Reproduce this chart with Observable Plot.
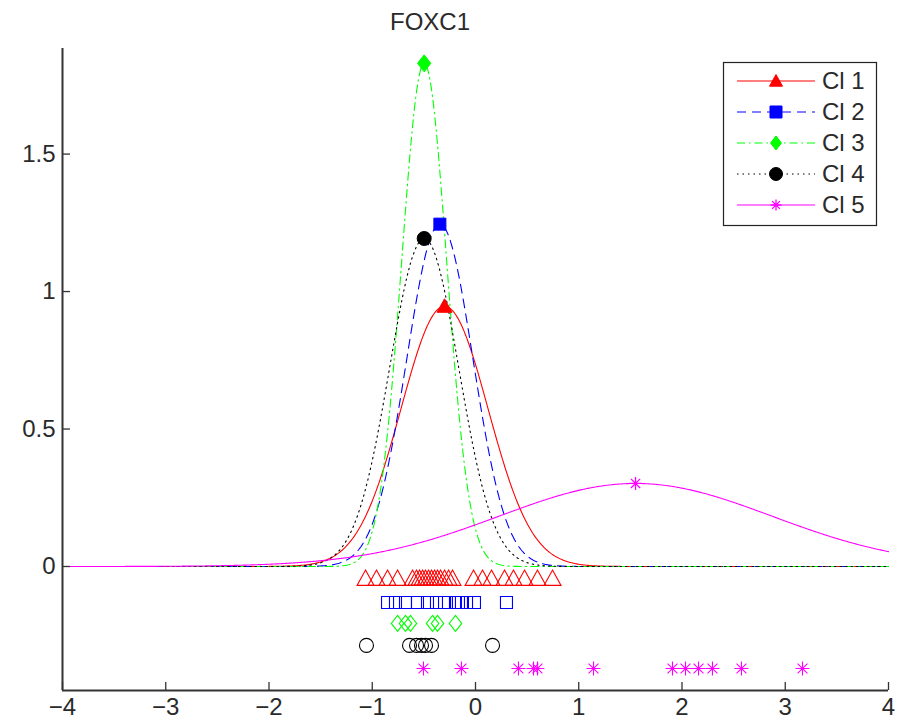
<!DOCTYPE html>
<html>
<head>
<meta charset="utf-8">
<script src="https://cdn.jsdelivr.net/npm/d3@7"></script>
<script src="https://cdn.jsdelivr.net/npm/@observablehq/plot@0.6"></script>
<style>
  html, body { margin: 0; padding: 0; background: #fff; }
  #chart { width: 903px; height: 724px; }
</style>
</head>
<body>
<div id="chart"></div>
<script>
// ---------- data ----------
const title = "FOXC1";
const classNames = ["Cl 1", "Cl 2", "Cl 3", "Cl 4", "Cl 5"];
const colors = ["#ff0000", "#0000ff", "#00ff00", "#000000", "#ff00ff"];
const dashes = [null, "9,6", "8,4,1.5,4", "1.5,4", null];
// fitted normal curve parameters (mean and standard deviation) per class
const means = [-0.30, -0.345, -0.497, -0.497, 1.55];
const sds = [0.4215, 0.3204, 0.218, 0.3344, 1.321];
// sample values shown as markers below zero
const rugLevels = [-0.044, -0.131, -0.207, -0.287, -0.371];
const rug1 = [-1.065, -0.959, -0.852, -0.755, -0.610, -0.572, -0.542, -0.513, -0.484, -0.455, -0.426, -0.397, -0.368, -0.339, -0.300, -0.261, -0.223, -0.019, 0.068, 0.155, 0.281, 0.368, 0.475, 0.600, 0.746];
const rug2 = [-0.852, -0.775, -0.678, -0.562, -0.465, -0.378, -0.300, -0.194, -0.165, -0.136, -0.087, -0.010, 0.300];
const rug3 = [-0.755, -0.678, -0.630, -0.416, -0.368, -0.194];
const rug4 = [-1.056, -0.639, -0.571, -0.523, -0.484, -0.426, 0.165];
const rug5 = [-0.504, -0.136, 0.416, 0.562, 0.600, 1.143, 1.908, 2.034, 2.160, 2.295, 2.576, 3.167];
const rugs = [rug1, rug2, rug3, rug4, rug5];
const xTicks = [-4, -3, -2, -1, 0, 1, 2, 3, 4];
const yTicks = [0, 0.5, 1, 1.5];
const xDomain = [-4, 4];
const yDomain = [-0.451, 1.884];

// ---------- marker shapes ----------
const rad = (size) => Math.sqrt(size / Math.PI);
const symTri = { draw(ctx, size) { const r = rad(size); ctx.moveTo(0, -r); ctx.lineTo(r, 0.8 * r); ctx.lineTo(-r, 0.8 * r); ctx.closePath(); } };
const symSq = { draw(ctx, size) { const r = rad(size); ctx.rect(-r, -r, 2 * r, 2 * r); } };
const symDia = { draw(ctx, size) { const r = rad(size); ctx.moveTo(0, -r); ctx.lineTo(0.78 * r, 0); ctx.lineTo(0, r); ctx.lineTo(-0.78 * r, 0); ctx.closePath(); } };
const symCir = { draw(ctx, size) { const r = rad(size); ctx.moveTo(r, 0); ctx.arc(0, 0, r, 0, 2 * Math.PI); ctx.closePath(); } };
const symAst = { draw(ctx, size) { const r = rad(size), d = r * Math.SQRT1_2;
  ctx.moveTo(-r, 0); ctx.lineTo(r, 0); ctx.moveTo(0, -r); ctx.lineTo(0, r);
  ctx.moveTo(-d, -d); ctx.lineTo(d, d); ctx.moveTo(-d, d); ctx.lineTo(d, -d); } };
const symbols = [symTri, symSq, symDia, symCir, symAst];
const rugR = [8.5, 6, 8, 7, 7];
const peakR = [7.5, 6, 8.5, 7, 6.5];
const legendR = [6.5, 6, 7, 6.5, 5.5];

const pdf = (x, m, s) => Math.exp(-0.5 * ((x - m) / s) ** 2) / (s * Math.sqrt(2 * Math.PI));
const xs = d3.range(0, 801).map(k => -4 + k * 0.01);

const font = "'Liberation Sans', Arial, Helvetica, sans-serif";
const textColor = "#2a2a2a";
const axisColor = "#333";

const marks = [];
// curves
classNames.forEach((c, i) => {
  marks.push(Plot.line(xs, {
    x: d => d, y: d => pdf(d, means[i], sds[i]),
    stroke: colors[i], strokeWidth: 1.1, strokeDasharray: dashes[i]
  }));
});
// peak markers
classNames.forEach((c, i) => {
  marks.push(Plot.dot([means[i]], {
    x: d => d, y: d => pdf(d, means[i], sds[i]),
    symbol: symbols[i], r: peakR[i],
    fill: i === 4 ? "none" : colors[i], stroke: colors[i], strokeWidth: i === 4 ? 1.3 : 1
  }));
});
// sample markers
rugs.forEach((arr, i) => {
  marks.push(Plot.dot(arr, {
    x: d => d, y: () => rugLevels[i],
    symbol: symbols[i], r: rugR[i], fill: "none", stroke: colors[i], strokeWidth: 1.1
  }));
});
// axes
marks.push(Plot.ruleX([xDomain[0]], { stroke: axisColor, strokeWidth: 2 }));
marks.push(Plot.ruleY([yDomain[0]], { stroke: axisColor, strokeWidth: 2 }));
marks.push(Plot.axisX({ ticks: xTicks, tickSize: -8, tickFormat: () => "", stroke: axisColor, strokeWidth: 1.3 }));
marks.push(Plot.axisY({ ticks: yTicks, tickSize: -8, tickFormat: () => "", stroke: axisColor, strokeWidth: 1.3 }));
marks.push(Plot.axisX({ ticks: xTicks, tickSize: 0, tickPadding: 7, fontSize: 24, fill: textColor }));
marks.push(Plot.axisY({ ticks: yTicks, tickSize: 0, tickPadding: 7, fontSize: 24, fill: textColor, tickFormat: d => String(d) }));

const plot = Plot.plot({
  width: 903,
  height: 724,
  marginLeft: 62,
  marginRight: 15,
  marginTop: 48,
  marginBottom: 34,
  x: { domain: xDomain, label: null },
  y: { domain: yDomain, label: null },
  style: { fontFamily: font, fontSize: "24px", background: "#fff", color: textColor, overflow: "visible" },
  marks
});

const svg = d3.select(plot);
// title
svg.append("text")
  .attr("x", 430).attr("y", 30)
  .attr("text-anchor", "middle")
  .attr("font-family", font).attr("font-size", 24).attr("fill", textColor)
  .text(title);

// legend
const lg = svg.append("g");
lg.append("rect")
  .attr("x", 723.5).attr("y", 62.5).attr("width", 153).attr("height", 163)
  .attr("fill", "#fff").attr("stroke", "#222").attr("stroke-width", 1.2);
classNames.forEach((c, i) => {
  const y = 81 + i * 31;
  lg.append("line")
    .attr("x1", 737).attr("x2", 815).attr("y1", y).attr("y2", y)
    .attr("stroke", colors[i]).attr("stroke-width", 1.1)
    .attr("stroke-dasharray", dashes[i]);
  lg.append("path")
    .attr("d", d3.symbol(symbols[i], Math.PI * legendR[i] * legendR[i])())
    .attr("transform", `translate(776,${y})`)
    .attr("fill", i === 4 ? "none" : colors[i])
    .attr("stroke", colors[i]).attr("stroke-width", i === 4 ? 1.3 : 1);
  lg.append("text")
    .attr("x", 822).attr("y", y).attr("dy", "0.35em")
    .attr("text-anchor", "start")
    .attr("font-family", font).attr("font-size", 24).attr("fill", textColor)
    .text(c);
});

document.getElementById("chart").appendChild(plot);
</script>
</body>
</html>
